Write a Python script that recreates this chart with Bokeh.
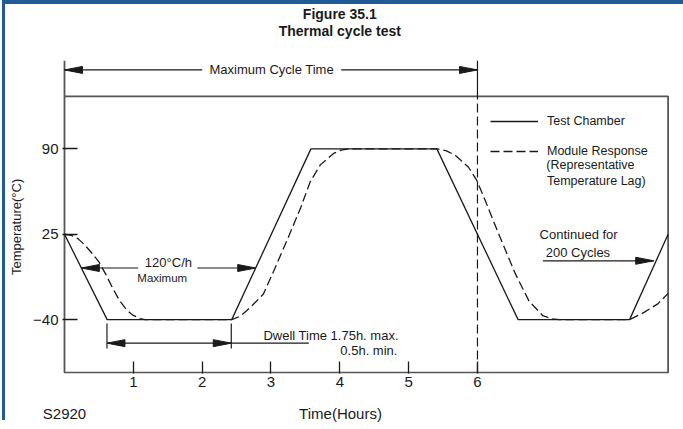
from bokeh.plotting import figure
from bokeh.models import Range1d, FixedTicker, Label, Legend, LegendItem, LinearAxis
from bokeh.core.properties import value
from bokeh.embed import file_html
from bokeh.resources import INLINE

# ---------------- data ----------------
x_ticks = [1, 2, 3, 4, 5, 6]
y_ticks = [-40, 25, 90]
y_tick_labels = {-40: "\u221240", 25: "25", 90: "90"}

chamber_time = [0.0, 0.62, 2.43, 3.58, 5.41, 6.59, 8.21, 8.77]
chamber_temp = [25, -40, -40, 90, 90, -40, -40, 25]

module_time = [0.0, 0.1, 0.2, 0.3, 0.4, 0.5, 0.6, 0.7, 0.8, 0.9, 1.0, 1.1, 1.17,
               2.43, 2.55, 2.65, 2.77, 2.89, 3.04, 3.23, 3.43, 3.57, 3.72, 3.91, 4.02, 4.13,
               5.41, 5.55, 5.68, 5.87, 5.99, 6.11, 6.31, 6.55, 6.75, 6.95, 7.08, 7.19,
               8.21, 8.42, 8.62, 8.77]
module_temp = [25, 24.2, 21.5, 16.5, 10.5, 4.0, -5.5, -16, -25.5, -32.5, -36.8, -39.2, -40,
               -40, -37.5, -33, -27, -20.5, -3, 20, 45, 65, 78, 86.5, 89, 90,
               90, 88.5, 85, 76, 66, 51, 25, -5, -26, -37, -39.4, -40,
               -40, -34.5, -28, -20]

title_lines = ["Figure 35.1", "Thermal cycle test"]
x_title = "Time(Hours)"
y_title = "Temperature(\u00b0C)"
fig_code = "S2920"

# annotation positions (hours, degC)
box_bottom = -80.3
box_top = 130
box_right = 8.77
stub_top = 157
title_x = 4.0
title_y = [192.4, 179.8]
max_cycle_line = 6.0
cycle_arrow_y = 150.1
cycle_tips = [0.0, 6.0]
cycle_gap = [2.0, 4.02]
rate_arrow_y = -0.7
rate_tips = [0.245, 2.778]
rate_gap = [1.07, 1.93]
dwell_arrow_y = -57.9
dwell_tips = [0.617, 2.423]
dwell_tick_y = [-43, -62]
dwell_line_end = 3.55
cont_arrow_y = 4.8
cont_arrow_x = [6.95, 8.56]
bottom_label_x = [0.0, 4.01]
y_title_at = 30.6

X0, X1 = -0.029, 8.819
Y0, Y1 = -81.0, 199.89
FW, FH = 609, 369

FONT = "Liberation Sans"
INK = "#1a1a1a"
BOX = "#555555"
FRAME_BLUE = "#1f5b94"

p = figure(frame_width=FW, frame_height=FH,
           x_range=Range1d(X0, X1), y_range=Range1d(Y0, Y1),
           output_backend="svg", toolbar_location=None, title=None,
           min_border_left=57, min_border_right=12, min_border_top=0, min_border_bottom=50)
p.outline_line_color = None
p.grid.visible = False
p.background_fill_color = "white"
p.border_fill_color = "white"
# thin blue page frame on the left and top (drawn as shadow, outside the canvas)
p.styles = {"margin-left": "5px", "margin-top": "4px",
            "box-shadow": f"-3px -4px 0 0 {FRAME_BLUE}, 0px -4px 0 0 {FRAME_BLUE}"}

# main axes
xa = p.xaxis[0]
xa.ticker = FixedTicker(ticks=x_ticks)
xa.major_tick_in = 12
xa.major_tick_out = 0
xa.minor_tick_line_color = None
xa.major_tick_line_color = INK
xa.major_tick_line_width = 1.3
xa.axis_line_color = None
xa.major_label_text_font = FONT
xa.major_label_text_font_size = "15px"
xa.major_label_text_color = INK
xa.major_label_standoff = 3

ya = p.yaxis[0]
ya.ticker = FixedTicker(ticks=y_ticks)
ya.major_label_overrides = y_tick_labels
ya.major_tick_in = 15
ya.major_tick_out = 0
ya.minor_tick_line_color = None
ya.major_tick_line_color = INK
ya.major_tick_line_width = 1.3
ya.axis_line_color = None
ya.major_label_text_font = FONT
ya.major_label_text_font_size = "15px"
ya.major_label_text_color = INK
ya.major_label_standoff = 4

# outer axes carrying the axis titles / figure code at their exact spots
xb = LinearAxis(ticker=FixedTicker(ticks=bottom_label_x),
                major_label_overrides={bottom_label_x[0]: fig_code, bottom_label_x[1]: x_title},
                axis_line_color=None, major_tick_line_color=None, minor_tick_line_color=None,
                major_label_standoff=9, major_label_text_font=FONT,
                major_label_text_font_size="15px", major_label_text_color=INK)
p.add_layout(xb, "below")

yb = LinearAxis(ticker=FixedTicker(ticks=[y_title_at]),
                major_label_overrides={y_title_at: y_title},
                major_label_orientation="vertical",
                axis_line_color=None, major_tick_line_color=None, minor_tick_line_color=None,
                major_label_standoff=0, major_label_text_font=FONT,
                major_label_text_font_size="13px", major_label_text_color=INK)
p.add_layout(yb, "left")

# plot box (with the left stub reaching up to the cycle arrow)
p.line([0, 0, box_right, box_right, 0], [stub_top, box_bottom, box_bottom, box_top, box_top],
       line_color=BOX, line_width=1.8)

# max cycle vertical at 6 h
p.line([max_cycle_line, max_cycle_line], [box_top, stub_top], line_color=INK, line_width=1.2)
p.line([max_cycle_line, max_cycle_line], [box_bottom, box_top], line_color=INK, line_width=1.2,
       line_dash="9 4")

# series
r1 = p.line(chamber_time, chamber_temp, line_color=INK, line_width=1.3)
r2 = p.line(module_time, module_temp, line_color=INK, line_width=1.3, line_dash="9 4")

# arrows
XPX = FW / (X1 - X0)
YPX = FH / (Y1 - Y0)
HEAD_LEN, HEAD_W = 18, 7


def head(tx, ty, d):
    L = HEAD_LEN / XPX
    W = HEAD_W / 2 / YPX
    return [tx, tx - d * L, tx - d * L], [ty, ty + W, ty - W]


hx, hy = [], []
for tx, ty, d in [(cycle_tips[0], cycle_arrow_y, -1), (cycle_tips[1], cycle_arrow_y, 1),
                  (rate_tips[0], rate_arrow_y, -1), (rate_tips[1], rate_arrow_y, 1),
                  (dwell_tips[0], dwell_arrow_y, -1), (dwell_tips[1], dwell_arrow_y, 1),
                  (cont_arrow_x[1], cont_arrow_y, 1)]:
    a, b = head(tx, ty, d)
    hx.append(a)
    hy.append(b)
p.patches(hx, hy, fill_color=INK, line_color=INK, line_width=1)

seg_x0 = [cycle_tips[0], cycle_gap[1], rate_tips[0], rate_gap[1], dwell_tips[0], cont_arrow_x[0],
          dwell_tips[0], dwell_tips[1]]
seg_x1 = [cycle_gap[0], cycle_tips[1], rate_gap[0], rate_tips[1], dwell_line_end, cont_arrow_x[1],
          dwell_tips[0], dwell_tips[1]]
seg_y0 = [cycle_arrow_y, cycle_arrow_y, rate_arrow_y, rate_arrow_y, dwell_arrow_y, cont_arrow_y,
          dwell_tick_y[0], dwell_tick_y[0]]
seg_y1 = [cycle_arrow_y, cycle_arrow_y, rate_arrow_y, rate_arrow_y, dwell_arrow_y, cont_arrow_y,
          dwell_tick_y[1], dwell_tick_y[1]]
p.segment(seg_x0, seg_y0, seg_x1, seg_y1, line_color=INK, line_width=1.2)

# title (two centred bold lines)
p.text(x=[title_x, title_x], y=title_y, text=title_lines, text_align="center",
       text_baseline="middle", text_font=value(FONT), text_font_style="bold",
       text_font_size="14px", text_color=INK)

# legend
legend = Legend(items=[LegendItem(label="Test Chamber", renderers=[r1]),
                       LegendItem(label="Module Response", renderers=[r2])],
                location=(428, 212), orientation="vertical", padding=0, spacing=10, margin=0,
                glyph_width=48, glyph_height=20, label_height=20, label_standoff=9,
                border_line_color=None, background_fill_alpha=0,
                label_text_font=FONT, label_text_font_size="12.5px", label_text_color=INK)
p.add_layout(legend)


def lab(x, y, text, size="13px", align="left"):
    p.add_layout(Label(x=x, y=y, text=text, text_align=align, text_baseline="middle",
                       text_font=FONT, text_font_size=size, text_color=INK))


lab(3.01, cycle_arrow_y, "Maximum Cycle Time", "13px", "center")
lab(1.51, 3.2, "120\u00b0C/h", "13px", "center")
lab(1.42, -8.0, "Maximum", "11.5px", "center")
lab(2.89, -52.3, "Dwell Time  1.75h. max.", "13px", "left")
lab(4.837, -63.7, "0.5h. min.", "13px", "right")
lab(7.0, 77.8, "(Representative", "12.5px", "left")
lab(7.01, 65.6, "Temperature Lag)", "12.5px", "left")
lab(7.47, 24.5, "Continued for", "13px", "center")
lab(7.46, 11.1, "200 Cycles", "13px", "center")

open("out.html", "w").write(file_html(p, INLINE))
